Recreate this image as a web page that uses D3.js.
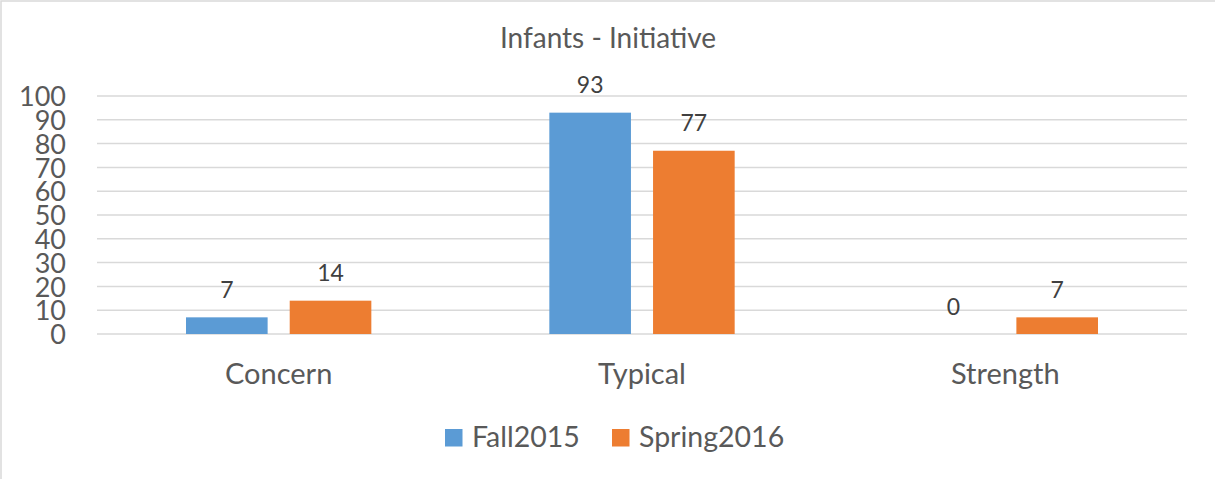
<!DOCTYPE html>
<html lang="en">
<head>
	<title>Infants - Initiative</title>
	<script type="text/javascript" src="https://d3js.org/d3.v7.min.js"></script>
	<style>
		body { margin: 0; background: #fff; font-family: Lato, "Open Sans", sans-serif; }
		svg { display: block; }
	</style>
</head>
<body>
	<div id="chart"></div>
<script type="text/javascript">

	// data
	var categories = ["Concern", "Typical", "Strength"];
	var seriesNames = ["Fall2015", "Spring2016"];
	var fall2015 = [7, 93, 0];
	var spring2016 = [14, 77, 7];
	var yTicks = [0, 10, 20, 30, 40, 50, 60, 70, 80, 90, 100];

	var colors = ["#5b9bd5", "#ed7d31"];
	var series = [fall2015, spring2016];

	var w = 1215,
	    h = 479;

	var svg = d3.select("#chart")
		.append("svg")
		.attr("width", w)
		.attr("height", h);

	// chart area border
	svg.append("rect")
		.attr("x", 1).attr("y", 1)
		.attr("width", w + 10).attr("height", h + 10)
		.attr("fill", "#fff")
		.attr("stroke", "#d9d9d9")
		.attr("stroke-width", 1.5);

	var x = d3.scaleBand()
		.domain(categories)
		.range([97, 1187]);

	var x1 = d3.scaleBand()
		.domain(seriesNames)
		.range([89, x.bandwidth() - 89])
		.paddingInner(0.213);

	var y = d3.scaleLinear()
		.domain([0, 100])
		.range([334, 96]);

	// title
	svg.append("text")
		.attr("x", 608)
		.attr("y", 48)
		.attr("text-anchor", "middle")
		.attr("fill", "#595959")
		.attr("font-size", "28px")
		.text("Infants - Initiative");

	// gridlines
	svg.append("g")
		.selectAll("line")
		.data(yTicks)
		.enter()
		.append("line")
		.attr("x1", 97)
		.attr("x2", 1187)
		.attr("y1", function(d) { return y(d); })
		.attr("y2", function(d) { return y(d); })
		.attr("stroke", "#d9d9d9")
		.attr("stroke-width", 1.5);

	// y axis labels
	var yAxis = d3.axisLeft(y)
		.tickValues(yTicks)
		.tickSize(0)
		.tickPadding(0);

	var yg = svg.append("g")
		.attr("transform", "translate(66,0)")
		.call(yAxis);
	yg.select(".domain").remove();
	yg.selectAll("text")
		.attr("fill", "#595959")
		.attr("font-size", "27px")
		.attr("font-family", "Lato, sans-serif")
		.attr("dy", "0.36em");

	// bars
	var groups = svg.append("g")
		.selectAll("g")
		.data(seriesNames)
		.enter()
		.append("g")
		.attr("fill", function(d, i) { return colors[i]; });

	groups.selectAll("rect")
		.data(function(d, i) {
			return series[i].map(function(v, j) { return {s: d, c: categories[j], v: v}; });
		})
		.enter()
		.append("rect")
		.attr("x", function(d) { return x(d.c) + x1(d.s); })
		.attr("y", function(d) { return y(d.v); })
		.attr("width", x1.bandwidth())
		.attr("height", function(d) { return y(0) - y(d.v); });

	// data labels
	groups.selectAll("text")
		.data(function(d, i) {
			return series[i].map(function(v, j) { return {s: d, c: categories[j], v: v}; });
		})
		.enter()
		.append("text")
		.attr("x", function(d) { return x(d.c) + x1(d.s) + x1.bandwidth() / 2; })
		.attr("y", function(d) { return y(d.v) - 19.5; })
		.attr("text-anchor", "middle")
		.attr("fill", "#404040")
		.attr("font-size", "23px")
		.text(function(d) { return d.v; });

	// category labels
	var xAxis = d3.axisBottom(x).tickSize(0).tickPadding(0);
	var xg = svg.append("g")
		.attr("transform", "translate(0,384)")
		.call(xAxis);
	xg.select(".domain").remove();
	xg.selectAll("text")
		.attr("fill", "#595959")
		.attr("font-size", "29px")
		.attr("font-family", "Lato, sans-serif")
		.attr("dy", 0);

	// legend
	var legendX = [445, 612];
	var legend = svg.append("g")
		.selectAll("g")
		.data(seriesNames)
		.enter()
		.append("g")
		.attr("transform", function(d, i) { return "translate(" + legendX[i] + ",429)"; });

	legend.append("rect")
		.attr("width", 17.5)
		.attr("height", 17.5)
		.attr("fill", function(d, i) { return colors[i]; });

	legend.append("text")
		.attr("x", 27)
		.attr("y", 17.5)
		.attr("fill", "#595959")
		.attr("font-size", "28.5px")
		.text(function(d) { return d; });

</script>
</body>
</html>
